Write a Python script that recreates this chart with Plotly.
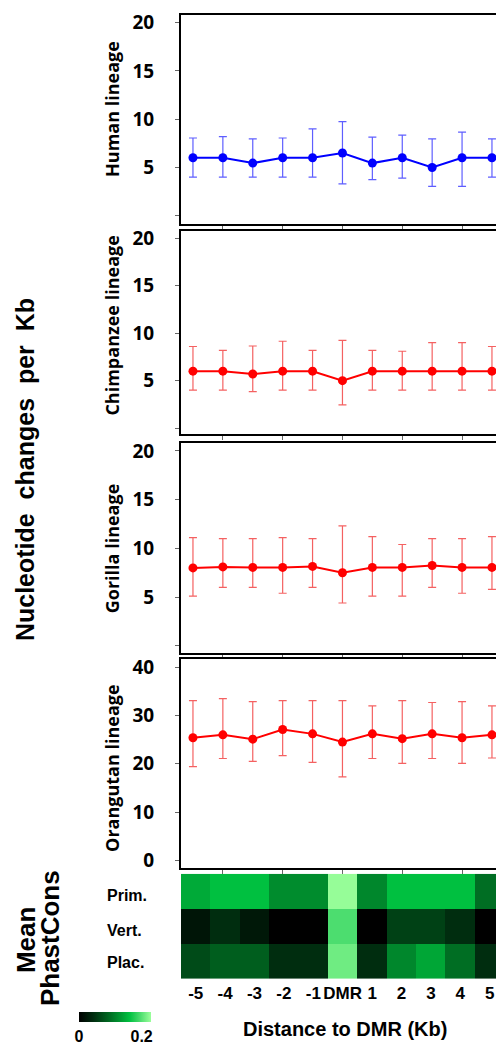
import plotly.graph_objects as go

# ---------------- data ----------------
positions = [-5, -4, -3, -2, -1, 0, 1, 2, 3, 4, 5]
tick_labels = ["-5", "-4", "-3", "-2", "-1", "DMR", "1", "2", "3", "4", "5"]

human_mean = [6.0, 6.0, 5.45, 6.0, 6.0, 6.5, 5.45, 6.0, 5.0, 6.0, 6.0]
human_upper = [8.05, 8.2, 7.95, 8.05, 9.0, 9.75, 8.15, 8.35, 7.95, 8.65, 7.95]
human_lower = [4.0, 4.0, 4.0, 4.0, 4.0, 3.3, 3.75, 3.9, 3.05, 3.05, 4.0]

chimp_mean = [6.0, 6.0, 5.7, 6.0, 6.0, 5.0, 6.0, 6.0, 6.0, 6.0, 6.0]
chimp_upper = [8.6, 8.2, 8.65, 9.15, 8.2, 9.25, 8.2, 8.1, 9.0, 9.0, 8.6]
chimp_lower = [4.0, 4.0, 3.85, 4.0, 4.0, 2.45, 4.0, 4.0, 4.0, 4.0, 4.0]

gorilla_mean = [8.0, 8.1, 8.05, 8.05, 8.15, 7.5, 8.05, 8.05, 8.25, 8.05, 8.05]
gorilla_upper = [11.1, 11.0, 11.0, 11.1, 11.0, 12.3, 11.2, 10.4, 11.0, 11.0, 11.2]
gorilla_lower = [5.1, 6.0, 6.0, 5.4, 6.0, 4.4, 5.1, 5.1, 6.0, 5.4, 5.8]

orang_mean = [25.4, 26.0, 25.1, 27.1, 26.2, 24.5, 26.2, 25.2, 26.2, 25.4, 26.0]
orang_upper = [33.1, 33.5, 32.9, 33.1, 33.1, 33.1, 32.0, 33.1, 32.7, 32.9, 32.0]
orang_lower = [19.4, 21.1, 20.5, 21.7, 20.3, 17.3, 21.1, 20.1, 21.1, 20.1, 21.2]

row_labels = ["Prim.", "Vert.", "Plac."]
phast_prim = [0.145, 0.161, 0.161, 0.123, 0.123, 0.228, 0.119, 0.161, 0.161, 0.161, 0.100]
phast_vert = [0.021, 0.046, 0.025, 0.0, 0.0, 0.196, 0.0, 0.063, 0.063, 0.046, 0.0]
phast_plac = [0.071, 0.087, 0.087, 0.046, 0.046, 0.211, 0.046, 0.119, 0.142, 0.100, 0.046]

panel_titles = ["Human lineage", "Chimpanzee lineage", "Gorilla lineage", "Orangutan lineage"]
colorbar_ticks = [0, 0.2]
colorbar_text = ["0", "0.2"]

# ---------------- layout helpers ----------------
W, H = 496, 1046


def fy(py):
    return 1 - py / H


def fx(px):
    return px / W


ARIAL = "Liberation Sans, Arial, sans-serif"
OPEN = "Open Sans, Noto Sans, sans-serif"

fig = go.Figure()

panels = [
    (human_mean, human_upper, human_lower, "#0000ff", "rgba(40,40,255,0.75)"),
    (chimp_mean, chimp_upper, chimp_lower, "#ff0000", "rgba(240,30,30,0.7)"),
    (gorilla_mean, gorilla_upper, gorilla_lower, "#ff0000", "rgba(240,30,30,0.7)"),
    (orang_mean, orang_upper, orang_lower, "#ff0000", "rgba(240,30,30,0.7)"),
]

for i, (m, up, lo, col, ecol) in enumerate(panels):
    ax = "" if i == 0 else str(i + 1)
    fig.add_trace(go.Scatter(
        x=positions, y=m, mode="lines+markers",
        line=dict(color=col, width=2),
        marker=dict(color=col, size=9),
        error_y=dict(type="data", symmetric=False,
                     array=[u - v for u, v in zip(up, m)],
                     arrayminus=[v - l for v, l in zip(m, lo)],
                     color=ecol, thickness=1.2, width=4),
        xaxis="x" + ax, yaxis="y" + ax, showlegend=False, cliponaxis=False,
    ))

colorscale = [
    [0.0, "rgb(0,0,0)"],
    [0.2, "rgb(0,45,15)"],
    [0.4, "rgb(0,100,32)"],
    [0.6, "rgb(0,160,52)"],
    [0.7, "rgb(0,192,64)"],
    [0.85, "rgb(75,220,110)"],
    [1.0, "rgb(155,255,155)"],
]

fig.add_trace(go.Heatmap(
    x=positions, y=row_labels, z=[phast_prim, phast_vert, phast_plac],
    zmin=0, zmax=0.23, colorscale=colorscale,
    xaxis="x5", yaxis="y5", showscale=True,
    colorbar=dict(orientation="h", x=fx(79), xanchor="left", y=fy(1017), yanchor="top",
                  len=72, lenmode="pixels", thickness=10, thicknessmode="pixels",
                  xpad=0, ypad=0, outlinewidth=0,
                  tickvals=colorbar_ticks, ticktext=colorbar_text, ticks="",
                  tickfont=dict(family=ARIAL, size=16, color="black", weight="bold")),
))

# pixel geometry of panels (top, bottom)
panel_px = [(9, 220), (227, 433), (442, 654), (660, 871)]
y_ranges = [[-0.82, 20.79], [-0.66, 20.8], [-0.74, 20.77], [-1.56, 41.7]]
y_ticks = [[0, 5, 10, 15, 20]] * 3 + [[0, 10, 20, 30, 40]]
y_ticktext = [["", "5", "10", "15", "20"]] * 3 + [["0", "10", "20", "30", "40"]]

x_dom = [fx(181), 1.0]
layout = dict(
    width=W, height=H, margin=dict(l=0, r=0, t=0, b=0),
    paper_bgcolor="white", plot_bgcolor="white", showlegend=False,
)
for i in range(4):
    ax = "" if i == 0 else str(i + 1)
    top, bot = panel_px[i]
    layout["xaxis" + ax] = dict(
        domain=x_dom, anchor="y" + ax, range=[-5.4, 5.135],
        showline=True, linecolor="black", linewidth=2, mirror=True,
        showgrid=False, zeroline=False,
        tickvals=[-4, -2, 0, 2, 4], ticks="outside", ticklen=4, tickwidth=1,
        tickcolor="#666", showticklabels=False,
    )
    layout["yaxis" + ax] = dict(
        domain=[fy(bot), fy(top)], anchor="x" + ax, range=y_ranges[i],
        showline=True, linecolor="black", linewidth=2, mirror=False,
        showgrid=False, zeroline=False,
        tickvals=y_ticks[i], ticktext=y_ticktext[i], ticks="outside",
        ticklen=4, tickwidth=1, tickcolor="#666", ticklabelstandoff=17,
        tickfont=dict(family=OPEN, size=19, color="black", weight="bold"),
    )

layout["xaxis5"] = dict(
    domain=x_dom, anchor="y5", range=[-5.5, 5.214],
    showline=False, showgrid=False, zeroline=False,
    tickvals=positions, ticktext=tick_labels, ticks="", tickangle=0,
    ticklabelstandoff=2,
    tickfont=dict(family=ARIAL, size=17, color="black", weight="bold"),
)
layout["yaxis5"] = dict(
    domain=[fy(983), fy(877)], anchor="x5", autorange="reversed",
    showline=False, showgrid=False, zeroline=False, showticklabels=False, ticks="",
)

annotations = []
title_pos = [(112, 104), (112, 323), (112, 548), (112, 770)]
for t, (px, py) in zip(panel_titles, title_pos):
    annotations.append(dict(text=t, x=fx(px), y=fy(py), xref="paper", yref="paper",
                            textangle=-90, showarrow=False, xanchor="center", yanchor="middle",
                            font=dict(family=OPEN, size=18, color="black", weight="bold")))

annotations.append(dict(text="Nucleotide\u00a0 changes\u00a0 per\u00a0 Kb", x=fx(25), y=fy(469),
                        xref="paper", yref="paper", textangle=-90, showarrow=False,
                        xanchor="center", yanchor="middle",
                        font=dict(family=ARIAL, size=25, color="black", weight="bold")))
annotations.append(dict(text="Mean", x=fx(26), y=fy(944), xref="paper", yref="paper",
                        textangle=-90, showarrow=False, xanchor="center", yanchor="middle",
                        font=dict(family=ARIAL, size=26, color="black", weight="bold")))
annotations.append(dict(text="PhastCons", x=fx(50), y=fy(942), xref="paper", yref="paper",
                        textangle=-90, showarrow=False, xanchor="center", yanchor="middle",
                        font=dict(family=ARIAL, size=26, color="black", weight="bold")))
for lab, py in zip(row_labels, [899, 934, 967]):
    annotations.append(dict(text=lab, x=fx(105), y=fy(py), xref="paper", yref="paper",
                            xanchor="left", yanchor="middle", showarrow=False,
                            font=dict(family=ARIAL, size=16, color="black", weight="bold")))
annotations.append(dict(text="Distance to DMR (Kb)", x=fx(345), y=fy(1034), xref="paper",
                        yref="paper", showarrow=False, xanchor="center", yanchor="middle",
                        font=dict(family=ARIAL, size=20, color="black", weight="bold")))

layout["annotations"] = annotations
fig.update_layout(**layout)

fig.write_html("out.html", config={"displayModeBar": False})
